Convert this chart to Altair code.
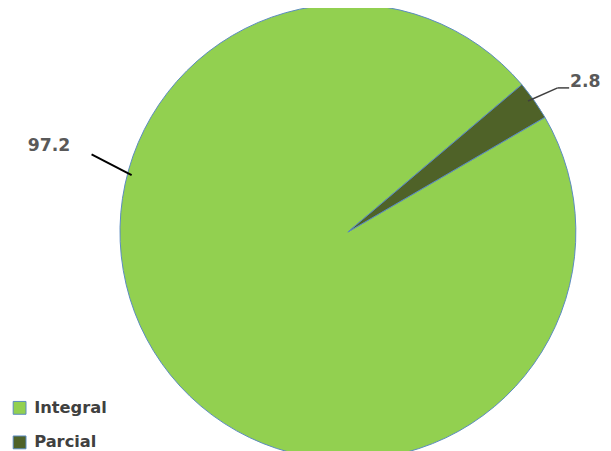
import math
import altair as alt
import pandas as pd

# ---- data ----
categories = ["Integral", "Parcial"]
values = [97.2, 2.8]
order_idx = [0, 1]

df = pd.DataFrame({"category": categories, "value": values, "idx": order_idx})

FONT = "DejaVu Sans"
start = math.radians(59.8)
cx, cy, R = 344.5, 224, 231

base = alt.Chart(df)

pie = base.mark_arc(stroke="#5a8ac0", strokeWidth=1).encode(
    theta=alt.Theta("value:Q", stack=True,
                    scale=alt.Scale(range=[start, start + 2 * math.pi])),
    order=alt.Order("idx:Q"),
    color=alt.Color(
        "category:N",
        scale=alt.Scale(domain=categories, range=["#92D050", "#4F6228"]),
        legend=alt.Legend(
            title=None, orient="none", legendX=3.5, legendY=394,
            direction="vertical", symbolType="square", symbolSize=169,
            symbolStrokeColor="#5a8ac0", symbolStrokeWidth=1,
            labelFont=FONT, labelFontSize=16.5, labelFontWeight="bold",
            labelColor="#404040", labelOffset=6.5, rowPadding=17, padding=0,
        ),
    ),
    x=alt.value(cx),
    y=alt.value(cy),
    radius=alt.value(R),
)

def label(cat, lx, ly):
    return base.transform_filter(alt.datum.category == cat).mark_text(
        font=FONT, fontSize=17.5, fontWeight="bold", color="#595959",
        align="center", baseline="middle",
    ).encode(text=alt.Text("value:Q", format=".1f"),
             x=alt.value(lx), y=alt.value(ly))

def leader(x1, y1, x2, y2, color, w):
    return base.transform_filter(alt.datum.idx == 0).mark_rule(
        color=color, strokeWidth=w).encode(
        x=alt.value(x1), y=alt.value(y1), x2=alt.value(x2), y2=alt.value(y2))

chart = alt.layer(
    pie,
    leader(84.7, 145.3, 125.3, 166.3, "#000000", 2),
    leader(527, 91.3, 557, 78, "#404040", 1.5),
    leader(557, 78, 568.7, 78, "#404040", 1.5),
    label("Integral", 41.5, 137),
    label("Parcial", 585, 72),
).properties(
    width=603, height=443, autosize="none", padding=0,
).configure_view(stroke=None)

chart.save("out.html", embed_options={"renderer": "svg", "actions": False})
